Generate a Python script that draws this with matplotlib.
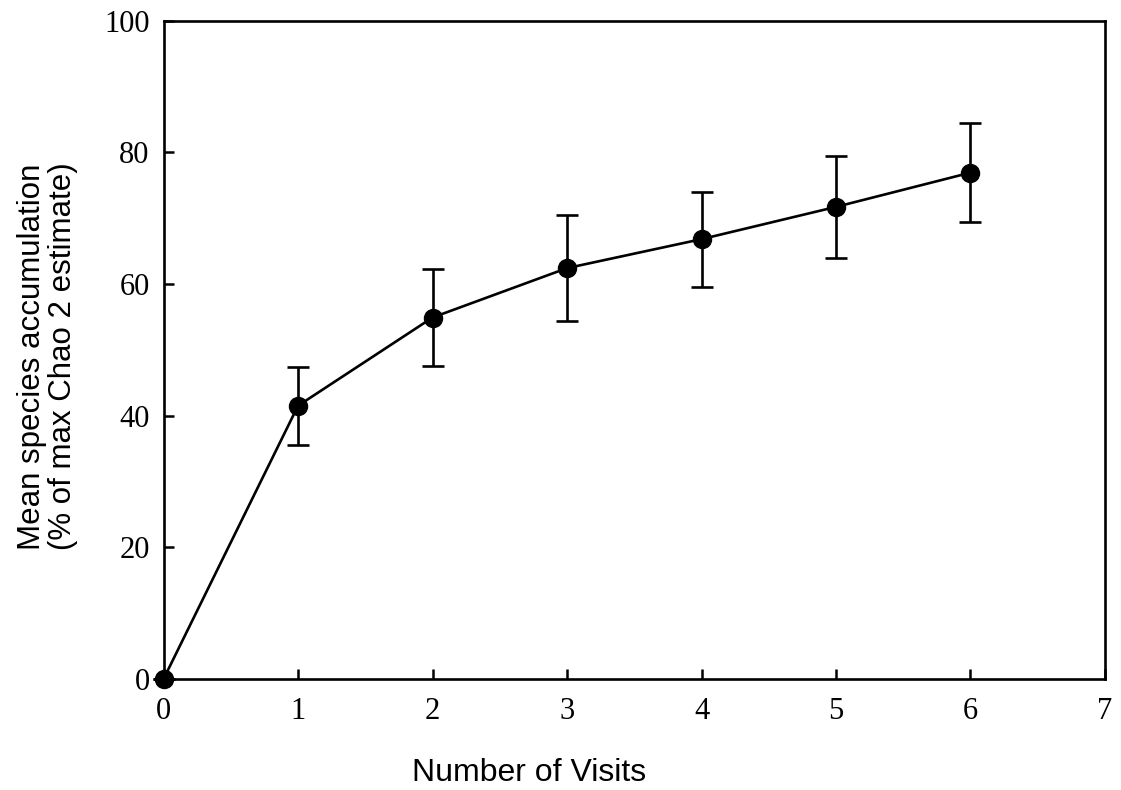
import matplotlib.pyplot as plt
import numpy as np

visits = [0, 1, 2, 3, 4, 5, 6]
mean_pct = [0.0, 41.5, 54.9, 62.4, 66.8, 71.7, 76.9]
err_pct = [0.0, 5.9, 7.3, 8.1, 7.2, 7.7, 7.5]

xticks = [0, 1, 2, 3, 4, 5, 6, 7]
yticks = [0, 20, 40, 60, 80, 100]

SERIF = ["Liberation Serif", "DejaVu Serif"]
SANS = ["Liberation Sans", "DejaVu Sans"]

fig = plt.figure(figsize=(11.21, 7.9), dpi=100)
ax = fig.add_axes([0.1459, 0.1405, 0.8398, 0.8335])

ax.errorbar(visits, mean_pct, yerr=err_pct, color="black", lw=1.9,
            marker="o", markersize=13, elinewidth=1.9, capsize=7.8,
            capthick=1.9, zorder=3, clip_on=False)

ax.set_xlim(0, 7)
ax.set_ylim(0, 100)
ax.set_xticks(xticks)
ax.set_yticks(yticks)
for s in ax.spines.values():
    s.set_linewidth(1.9)
ax.tick_params(direction="in", length=7.2, width=1.8, top=False, right=False,
               labelsize=22, labelfontfamily=SERIF)
ax.tick_params(axis="y", pad=10)
ax.tick_params(axis="x", pad=13)

ax.set_xlabel("Number of Visits", fontsize=23, family=SANS)
ax.xaxis.set_label_coords(0.388, -0.143)
ax.set_ylabel("Mean species accumulation\n(% of max Chao 2 estimate)",
              fontsize=22.5, family=SANS, linespacing=1.05)
ax.yaxis.set_label_coords(-0.1235, 0.49)
ax.xaxis.label.set_va("center")
ax.yaxis.label.set_va("center")

fig.savefig("out.png", dpi=100, facecolor="white")
